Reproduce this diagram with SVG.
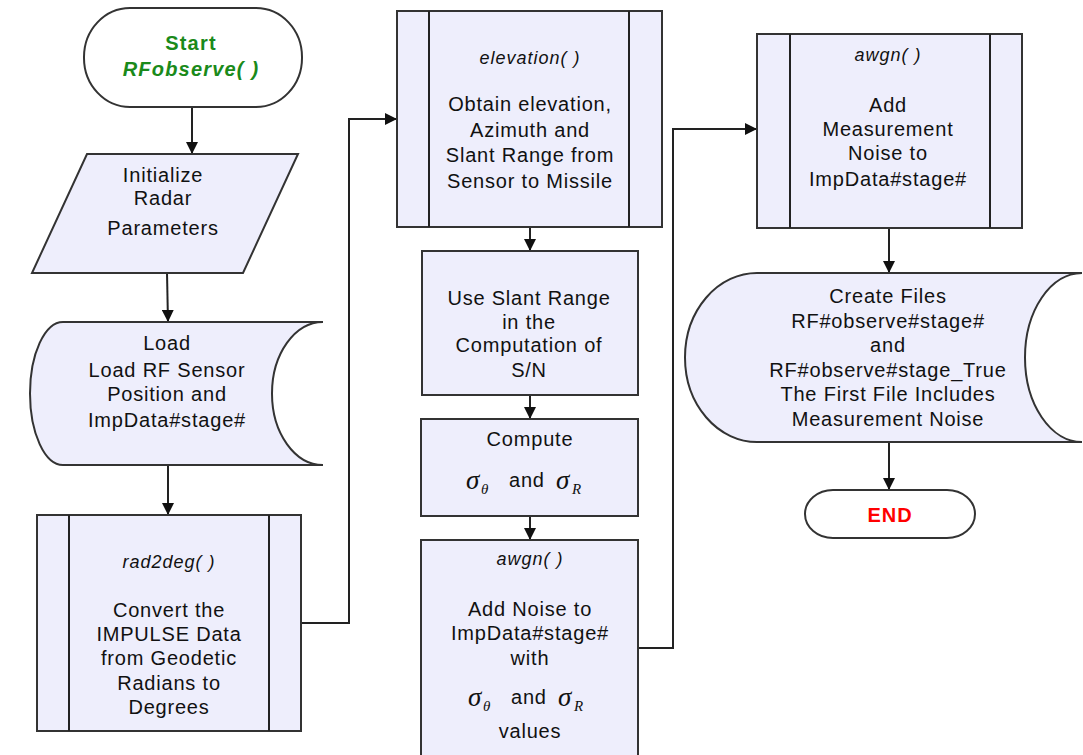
<svg xmlns="http://www.w3.org/2000/svg" width="1083" height="755" viewBox="0 0 1083 755">
  <defs>
    <marker id="arrow" viewBox="0 0 12 12" refX="12" refY="6" markerWidth="12" markerHeight="12" markerUnits="userSpaceOnUse" orient="auto">
      <path d="M0,0 L12,6 L0,12 Z" fill="#111"/>
    </marker>
    <style>
      .shape { fill: #EEEEFC; stroke: #333; stroke-width: 2; }
      .term { fill: #FFFFFF; stroke: #333; stroke-width: 2; }
      .bar { fill: none; stroke: #222; stroke-width: 2; }
      .conn { fill: none; stroke: #222; stroke-width: 2; marker-end: url(#arrow); }
      text { font-family: "Liberation Sans", Arial, sans-serif; font-size: 20px; fill: #111; text-anchor: middle; letter-spacing: 0.8px; }
      .fn { font-style: italic; font-size: 18px; letter-spacing: 1px; }
      .start { fill: #1A8A1A; font-weight: bold; letter-spacing: 1.2px; }
      .end { fill: #FF0000; font-weight: bold; letter-spacing: 1px; }
      .sig { font-family: "Liberation Serif", "Times New Roman", serif; font-style: italic; font-size: 27px; text-anchor: start; letter-spacing: 0; }
      .sub { font-family: "Liberation Serif", "Times New Roman", serif; font-style: italic; font-size: 15px; text-anchor: start; letter-spacing: 0; }
      .plain { text-anchor: start; }
    </style>
  </defs>

  <!-- connectors -->
  <g id="connectors">
    <line class="conn" x1="192" y1="107" x2="192" y2="154"/>
    <line class="conn" x1="167" y1="273" x2="168" y2="322"/>
    <line class="conn" x1="168" y1="465" x2="168" y2="515"/>
    <polyline class="conn" points="301,623 349,623 349,119 397,119"/>
    <line class="conn" x1="530" y1="227" x2="530" y2="251"/>
    <line class="conn" x1="530" y1="395" x2="530" y2="419"/>
    <line class="conn" x1="530" y1="516" x2="530" y2="540"/>
    <polyline class="conn" points="638,648 673,648 673,129 757,129"/>
    <line class="conn" x1="889" y1="228" x2="889" y2="273"/>
    <line class="conn" x1="889" y1="442" x2="889" y2="490"/>
  </g>

  <!-- start terminator -->
  <g id="start">
    <rect class="term" x="84" y="8" width="218" height="99" rx="46" ry="49"/>
    <text class="start" x="191" y="50">Start</text>
    <text class="start" x="191" y="76" font-style="italic">RFobserve( )</text>
  </g>

  <!-- input parameters -->
  <g id="init-params">
    <polygon class="shape" points="87,154 298,154 243,273 32,273"/>
    <text x="163" y="182">Initialize</text>
    <text x="163" y="205">Radar</text>
    <text x="163" y="235">Parameters</text>
  </g>

  <!-- stored data: load -->
  <g id="load-data">
    <path class="shape" d="M63,322 L323,322 A51,71.5 0 0 0 323,465 L63,465 A33,71.5 0 0 1 63,322 Z"/>
    <text x="167" y="350">Load</text>
    <text x="167" y="377">Load RF Sensor</text>
    <text x="167" y="401">Position and</text>
    <text x="167" y="427">ImpData#stage#</text>
  </g>

  <!-- predefined process: rad2deg -->
  <g id="rad2deg">
    <rect class="shape" x="37" y="515" width="264" height="216"/>
    <line class="bar" x1="69" y1="515" x2="69" y2="731"/>
    <line class="bar" x1="269" y1="515" x2="269" y2="731"/>
    <text class="fn" x="169" y="568">rad2deg( )</text>
    <text x="169" y="617">Convert the</text>
    <text x="169" y="641">IMPULSE Data</text>
    <text x="169" y="665">from Geodetic</text>
    <text x="169" y="690">Radians to</text>
    <text x="169" y="714">Degrees</text>
  </g>

  <!-- predefined process: elevation -->
  <g id="elevation">
    <rect class="shape" x="397" y="11" width="265" height="216"/>
    <line class="bar" x1="429" y1="11" x2="429" y2="227"/>
    <line class="bar" x1="629" y1="11" x2="629" y2="227"/>
    <text class="fn" x="530" y="64">elevation( )</text>
    <text x="530" y="111">Obtain elevation,</text>
    <text x="530" y="137">Azimuth and</text>
    <text x="530" y="162">Slant Range from</text>
    <text x="530" y="188">Sensor to Missile</text>
  </g>

  <!-- process: slant range -->
  <g id="slant-range">
    <rect class="shape" x="422" y="251" width="216" height="144"/>
    <text x="529" y="305">Use Slant Range</text>
    <text x="529" y="329">in the</text>
    <text x="529" y="352">Computation of</text>
    <text x="529" y="377">S/N</text>
  </g>

  <!-- process: compute sigmas -->
  <g id="compute-sigma">
    <rect class="shape" x="421" y="419" width="217" height="97"/>
    <text x="530" y="446">Compute</text>
    <text class="sig" x="466" y="489">σ</text>
    <text class="sub" x="481" y="494">θ</text>
    <text class="plain" x="509" y="487">and</text>
    <text class="sig" x="556" y="489">σ</text>
    <text class="sub" x="572" y="494">R</text>
  </g>

  <!-- process: awgn noise -->
  <g id="awgn-noise">
    <rect class="shape" x="421" y="540" width="217" height="222"/>
    <text class="fn" x="530" y="565">awgn( )</text>
    <text x="530" y="616">Add Noise to</text>
    <text x="530" y="640">ImpData#stage#</text>
    <text x="530" y="665">with</text>
    <text class="sig" x="468" y="706">σ</text>
    <text class="sub" x="483" y="711">θ</text>
    <text class="plain" x="511" y="704">and</text>
    <text class="sig" x="558" y="706">σ</text>
    <text class="sub" x="574" y="711">R</text>
    <text x="530" y="738">values</text>
  </g>

  <!-- predefined process: measurement noise -->
  <g id="awgn-measurement">
    <rect class="shape" x="757" y="34" width="265" height="194"/>
    <line class="bar" x1="790" y1="34" x2="790" y2="228"/>
    <line class="bar" x1="990" y1="34" x2="990" y2="228"/>
    <text class="fn" x="888" y="61">awgn( )</text>
    <text x="888" y="112">Add</text>
    <text x="888" y="136">Measurement</text>
    <text x="888" y="160">Noise to</text>
    <text x="888" y="186">ImpData#stage#</text>
  </g>

  <!-- stored data: output files -->
  <g id="create-files">
    <path class="shape" d="M757,273 L1082,273 A57,84.5 0 0 0 1082,442 L757,442 A72,84.5 0 0 1 757,273 Z"/>
    <text x="888" y="303">Create Files</text>
    <text x="888" y="328">RF#observe#stage#</text>
    <text x="888" y="352">and</text>
    <text x="888" y="377">RF#observe#stage_True</text>
    <text x="888" y="401">The First File Includes</text>
    <text x="888" y="426">Measurement Noise</text>
  </g>

  <!-- end terminator -->
  <g id="end">
    <rect class="term" x="805" y="490" width="170" height="48" rx="28" ry="24"/>
    <text class="end" x="890" y="522">END</text>
  </g>
</svg>
